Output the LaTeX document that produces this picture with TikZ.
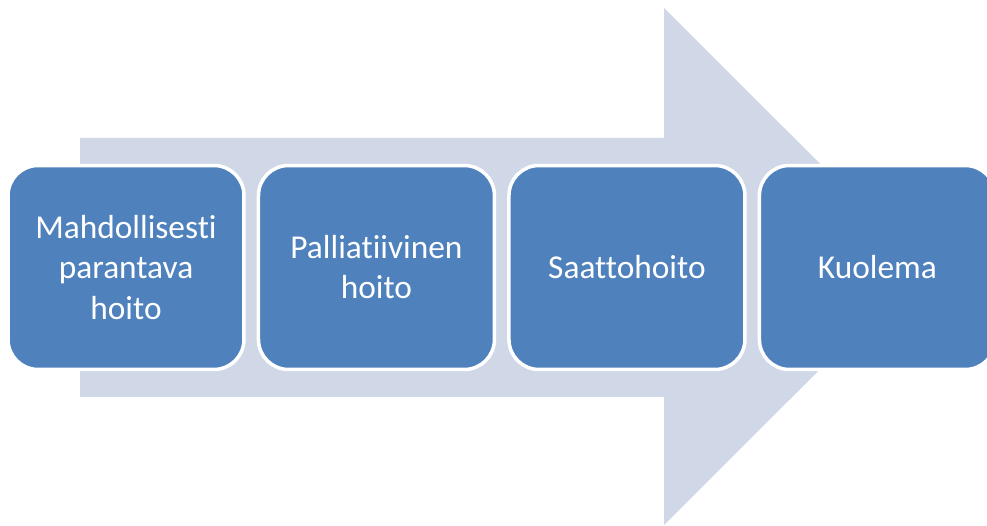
\documentclass[tikz,border=0pt]{standalone}
\usepackage{fontspec}
\setmainfont{Carlito}[Ligatures={NoCommon,NoRare,NoContextual}]
\usetikzlibrary{positioning}
\definecolor{boxblue}{HTML}{4F81BD}
\definecolor{arrowgrey}{HTML}{D0D8E8}

\begin{document}
\begin{tikzpicture}[x=0.02cm, y=-0.02cm,
	phase/.style={draw=white, line width=2pt, fill=boxblue, rounded corners=0.6cm,
		minimum width=4.72cm, minimum height=4.08cm, text=white, align=center,
		font=\fontsize{19}{22.8}\selectfont},
	node distance=0.22cm]
		%%%%% START %%%%%
		\clip (0, 0) rectangle (987, 526);
		\useasboundingbox (0, 0) rectangle (987, 526);
		
		\fill[arrowgrey] (80, 138) -- (664, 138) -- (664, 8) -- (923, 266.5) -- (664, 525) -- (664, 397) -- (80, 397) -- cycle;
		
		\node[phase] (cure) at (126, 267.5) {Mahdollisesti\\parantava\\hoito};
		\node[phase, right=of cure] (palliative) {Palliatiivinen\\hoito};
		\node[phase, right=of palliative] (terminal) {Saattohoito};
		\node[phase, right=of terminal] (death) {Kuolema};
		%%%%% END %%%%%
	\end{tikzpicture}
\end{document}
